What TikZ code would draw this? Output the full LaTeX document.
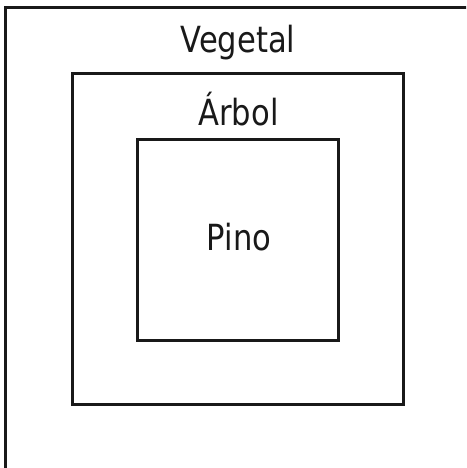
\documentclass[tikz,border=0pt]{standalone}
\usepackage{fontspec}
\setmainfont{DejaVu Sans}[FakeStretch=0.85]
\begin{document}
\begin{tikzpicture}
    [ x=1pt, y=-1pt,
      caja/.style={draw=black!90, line width=3pt, fill=none},
      rotulo/.style={anchor=base, inner sep=0pt, font=\fontsize{36}{40}\selectfont, text=black!90} ]

    \useasboundingbox (0,0) rectangle (466,468);
    \clip (0,0) rectangle (466,468);

    \draw[caja] (5,8) rectangle (490,490);
    \draw[caja] (72,74) rectangle (403,404);
    \draw[caja] (137,139) rectangle (338,340);

    \node (vegetal) at (238,53) [rotulo] {Vegetal};
    \node (arbol) at (238.5,125) [rotulo] {Árbol};
    \node (pino) at (239,250) [rotulo] {Pino};

\end{tikzpicture}
\end{document}
